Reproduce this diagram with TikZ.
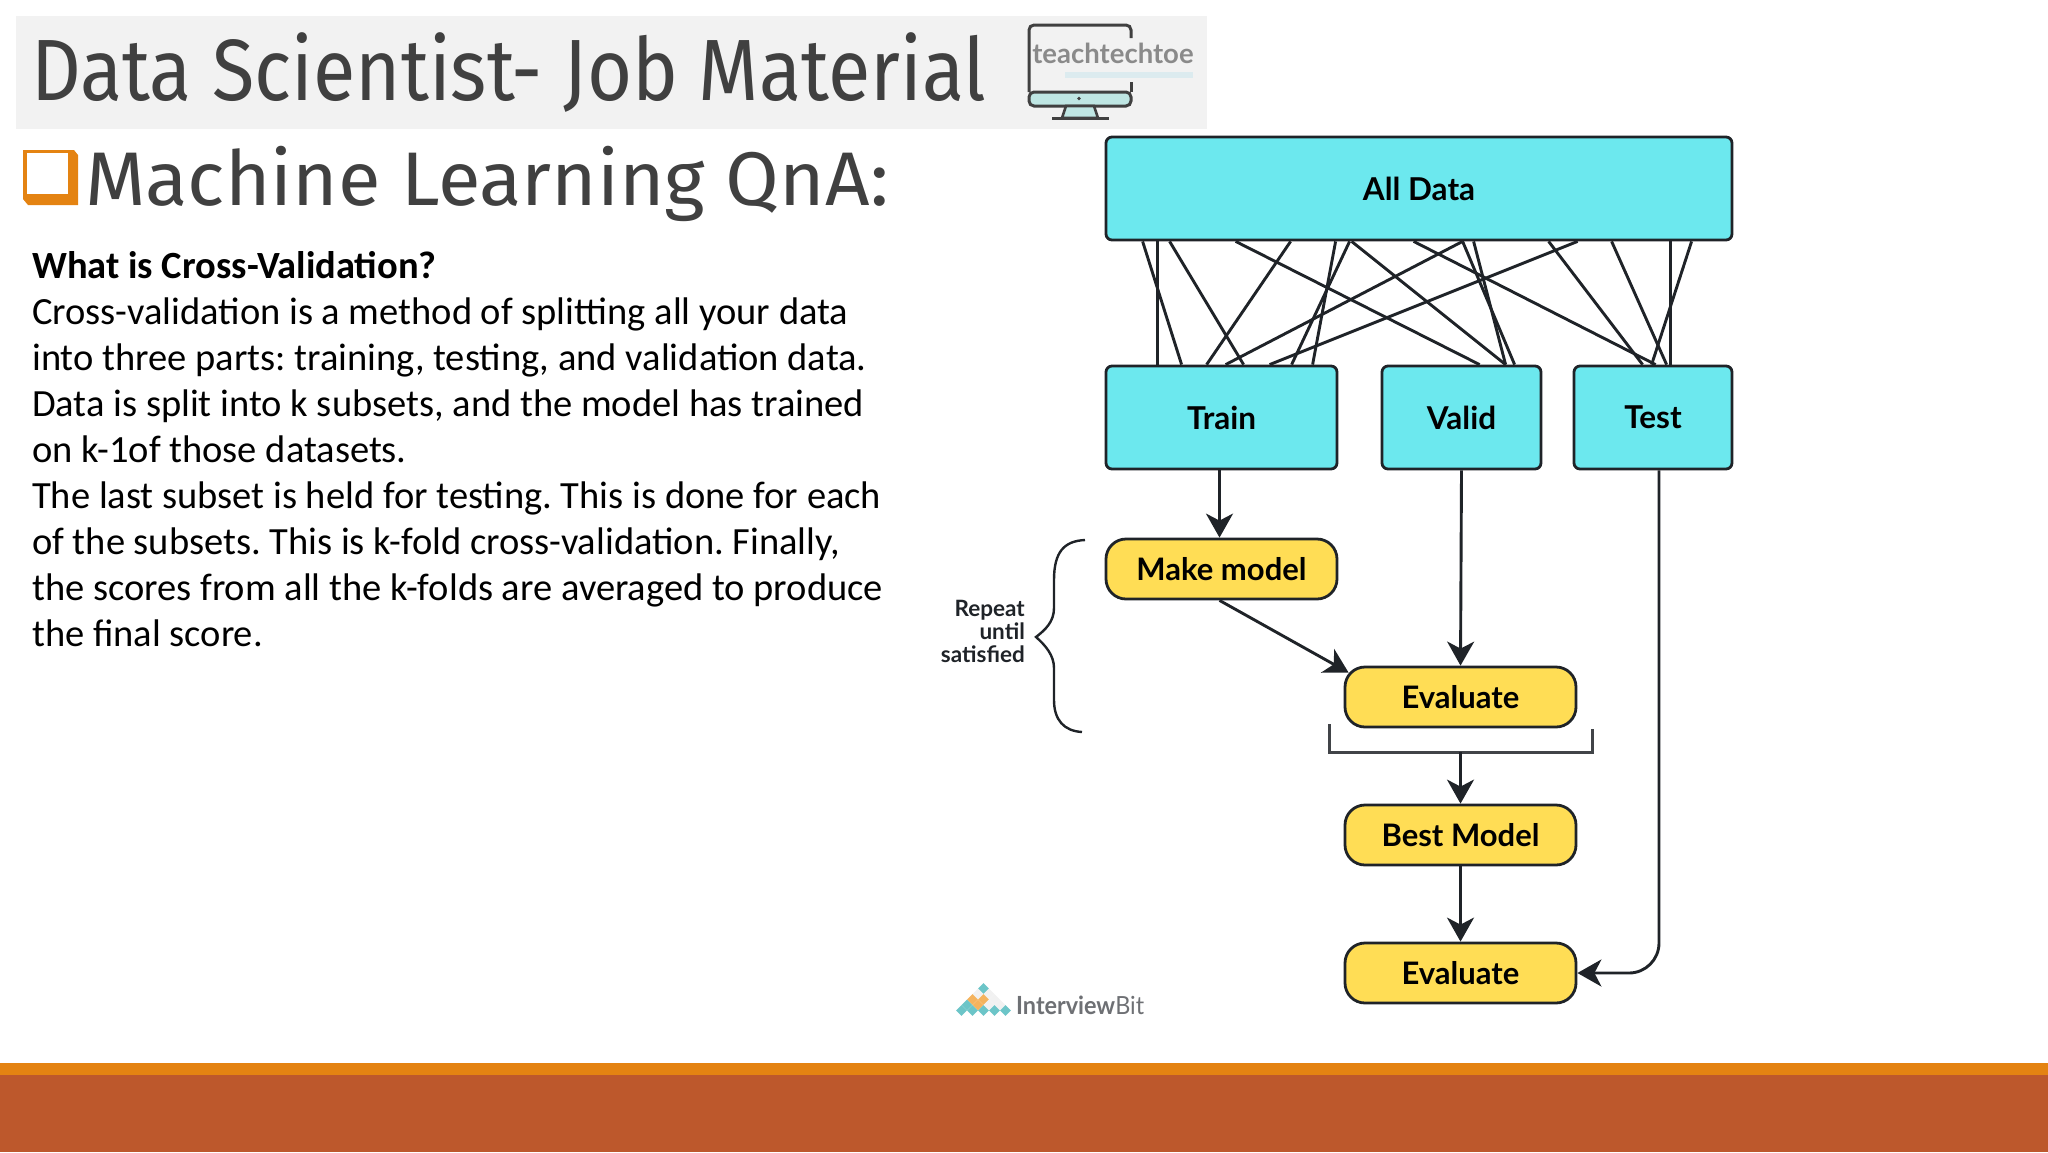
\documentclass[tikz,border=0pt]{standalone}
\usepackage{fontspec}
\usetikzlibrary{arrows.meta}
\setmainfont{Lato}
\newfontfamily\titlefont[FakeStretch=0.89]{Fira Sans}
\newfontfamily\subtitlefont[FakeStretch=1.023]{Fira Sans}
\newfontfamily\logofont[FakeStretch=0.936]{Lato}
\newfontfamily\bodyfont{Carlito}
\definecolor{headgray}{HTML}{F2F2F2}
\definecolor{inkgray}{HTML}{404040}
\definecolor{bandorange}{HTML}{E48312}
\definecolor{bandrust}{HTML}{BD582C}
\definecolor{boxcyan}{HTML}{6CE8EE}
\definecolor{boxyellow}{HTML}{FFDD55}
\definecolor{boxline}{HTML}{1F2328}
\definecolor{logoteal}{HTML}{6CC5C8}
\definecolor{logoorange}{HTML}{F4B35E}
\definecolor{logowhite}{HTML}{F1F1F1}
\definecolor{logogray}{HTML}{6E7074}
\definecolor{screengray}{HTML}{8A8A8A}
\definecolor{screenblue}{HTML}{DCEBEF}
\definecolor{screenmint}{HTML}{BFE6E3}
\tikzset{
    databox/.style={draw=boxline,line width=2.8pt,fill=boxcyan,rounded corners=6pt,minimum height=103pt,font=\fontsize{31.5}{36}\selectfont\bfseries},
    stepbox/.style={draw=boxline,line width=2.8pt,fill=boxyellow,rounded corners=20pt,minimum width=231pt,minimum height=60pt,font=\fontsize{31}{36}\selectfont\bfseries},
    link/.style={draw=boxline,line width=2.9pt},
    flow/.style={draw=boxline,line width=2.9pt,-{Stealth[length=24pt,width=27pt,inset=7pt]}},
}

\begin{document}
\begin{tikzpicture}[x=1pt,y=-1pt]
    \useasboundingbox (0,0) rectangle (2048,1152);
    % bands
    \fill[headgray] (16,16) rectangle (1207,129);
    \fill[bandorange] (0,1063) rectangle (2048,1075);
    \fill[bandrust] (0,1075) rectangle (2048,1152);
    % title
    \node[anchor=base west,inner sep=0pt,text=inkgray,font=\titlefont\fontsize{87}{90}\selectfont] (title) at (31,100) {Data Scientist- Job Material};
    \node[anchor=base west,inner sep=0pt,text=inkgray,font=\subtitlefont\fontsize{76}{80}\selectfont] (subtitle) at (85,205) {Machine Learning QnA:};
    % bullet
    \fill[bandorange] (23,150) -- (74,150) -- (78,155) -- (78,205) -- (28,205) -- (23,199) -- cycle;
    \fill[white] (27,153) rectangle (68,194);
    % monitor
    \draw[inkgray,line width=3pt,fill=screenmint,rounded corners=5pt] (1029,92) -- (1131,92) -- (1131,106) -- (1029,106) -- cycle;
    \draw[inkgray,line width=3pt,rounded corners=5pt] (1131,38) -- (1131,25) -- (1029,25) -- (1029,92);
    \draw[inkgray,line width=3pt] (1131,82) -- (1131,92);
    \fill[inkgray] (1079,98.5) circle (1.8);
    \draw[inkgray,line width=2.6pt,fill=screenmint] (1066,106) -- (1062,118) -- (1098,118) -- (1094,106) -- cycle;
    \draw[inkgray,line width=3pt] (1052,118) -- (1109,118);
    \fill[screenblue] (1065,72) rectangle (1193,78);
    \node[anchor=center,inner sep=0pt,text=screengray,font=\fontsize{27.5}{30}\selectfont\bfseries] (brand) at (1113,53) {teachtechtoe};
    % body text
    \node[anchor=north west,inner sep=0pt,align=left,font=\bodyfont\fontsize{38.5}{46}\selectfont\frenchspacing] (body) at (32,251) {\textbf{What is Cross-Validation?}\\
        Cross-validation is a method of splitting all your data\\
        into three parts: training, testing, and validation data.\\
        Data is split into k subsets, and the model has trained\\
        on k-1of those datasets.\\
        The last subset is held for testing. This is done for each\\
        of the subsets. This is k-fold cross-validation. Finally,\\
        the scores from all the k-folds are averaged to produce\\
        the final score.};
    % boxes
    \node[databox,minimum width=626pt] (alldata) at (1419,188.5) {All Data};
    \node[databox,minimum width=231pt] (train) at (1221.5,417.5) {Train\hspace{4pt}};
    \node[databox,minimum width=159pt] (valid) at (1461.5,417.5) {Valid};
    \node[databox,minimum width=158pt] (test) at (1653,417.5) {Test};
    \node[stepbox] (make) at (1221.5,569) {Make model\hspace{4pt}};
    \node[stepbox] (evalone) at (1460.5,697) {Evaluate};
    \node[stepbox] (best) at (1460.5,835) {Best Model};
    \node[stepbox] (evaltwo) at (1460.5,973) {Evaluate};
    % links
    \foreach \a/\b in {38/77,53/53,65/139,186/102,231/208,245/187,358/121,473/165}
        \draw[link] ([xshift=\a pt]alldata.south west) -- ([xshift=\b pt]train.north west);
    \foreach \a/\b in {131/99,247/125,358/134,369/125}
        \draw[link] ([xshift=\a pt]alldata.south west) -- ([xshift=\b pt]valid.north west);
    \foreach \a/\b in {309/83,444/70,507/94,566/98,587/79}
        \draw[link] ([xshift=\a pt]alldata.south west) -- ([xshift=\b pt]test.north west);
    % arrows
    \draw[flow] ([xshift=-2pt]train.south) -- ([xshift=-2pt]make.north);
    \draw[flow] (valid.south) -- (evalone.north);
    \draw[flow] ([xshift=-2pt]make.south) -- ([xshift=5pt,yshift=-7pt]evalone.north west);
    \draw[flow,rounded corners=30pt] ([xshift=6pt]test.south) |- (evaltwo.east);
    \draw[flow] (best.south) -- (evaltwo.north);
    % bracket
    \coordinate (brleft) at (1329,724);
    \coordinate (brright) at (1592,729);
    \coordinate (brmid) at (1460.5,752);
    \draw[draw=boxline!85!white,line width=3pt] (brleft) |- (brright |- brmid) -- (brright);
    \draw[flow] (brmid) -- (best.north);
    % brace
    \draw[boxline,line width=2.4pt] (1085,540) .. controls (1064,541) and (1054,552) .. (1054,580) -- (1054,608) .. controls (1054,622) and (1045,630) .. (1036,637) .. controls (1045,645) and (1054,655) .. (1054,668) -- (1054,700) .. controls (1054,720) and (1064,731) .. (1082,732);
    \node[anchor=east,inner sep=0pt,align=right,text=boxline,font=\fontsize{22.5}{23}\selectfont\bfseries] (repeat) at (1025,631) {Repeat\\until\\satisfied};
    % interviewbit logo
    \foreach \x/\y/\c in {983.5/988.5/logoteal,978/994/logowhite,989/994/logowhite,
        972.5/999.5/logoorange,983.5/999.5/logoorange,994.5/999.5/logowhite,
        967/1005/logoteal,978/1005/logoorange,989/1005/logowhite,1000/1005/logowhite,
        961.5/1010.5/logoteal,972.5/1010.5/logoteal,983.5/1010.5/logoteal,994.5/1010.5/logoteal,1005.5/1010.5/logoteal}
        \fill[\c] (\x-5.3,\y) -- (\x,\y-5.3) -- (\x+5.3,\y) -- (\x,\y+5.3) -- cycle;
    \node[anchor=base west,inner sep=0pt,text=logogray,font=\logofont\fontsize{25}{28}\selectfont] (logo) at (1016,1014) {\textbf{Interview}Bit};
\end{tikzpicture}
\end{document}
